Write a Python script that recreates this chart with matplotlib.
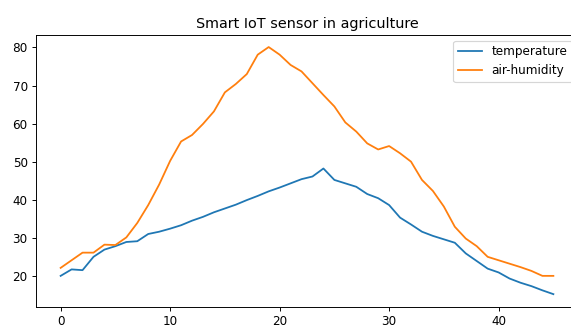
import numpy as np
import matplotlib
matplotlib.use("Agg")
import matplotlib.pyplot as plt

# readings every time step
time_steps = list(range(46))
temperature = [20.0, 21.7, 21.5, 25.0, 26.9, 27.8, 28.9, 29.1, 31.0, 31.6,
               32.4, 33.3, 34.5, 35.5, 36.7, 37.7, 38.7, 39.9, 41.0, 42.2,
               43.2, 44.3, 45.4, 46.1, 48.2, 45.2, 44.3, 43.4, 41.5, 40.4,
               38.6, 35.3, 33.5, 31.6, 30.5, 29.6, 28.7, 25.9, 23.9, 21.9,
               20.9, 19.3, 18.2, 17.3, 16.2, 15.2]
air_humidity = [22.1, 24.1, 26.1, 26.1, 28.2, 28.1, 30.1, 33.9, 38.6, 44.0,
                50.2, 55.3, 57.0, 59.9, 63.2, 68.2, 70.4, 73.0, 78.1, 80.1,
                78.1, 75.4, 73.7, 70.6, 67.5, 64.5, 60.3, 57.9, 54.8, 53.2,
                54.1, 52.2, 50.0, 45.2, 42.3, 38.2, 32.9, 29.8, 27.8, 25.0,
                24.1, 23.2, 22.3, 21.3, 20.0, 20.0]

# the reference looks like a slightly shrunk screenshot, so draw at a lower dpi
dpi = 86
fig = plt.figure(figsize=(571 / dpi, 329 / dpi), dpi=dpi)
ax = fig.add_axes([36 / 571, 22.5 / 329, 542 / 571, 271.8 / 329])

ax.plot(time_steps, temperature, label="temperature")
ax.plot(time_steps, air_humidity, label="air-humidity")

ax.set_title("Smart IoT sensor in agriculture")
ax.legend(loc="upper right")

fig.savefig("out.png", dpi=dpi)
